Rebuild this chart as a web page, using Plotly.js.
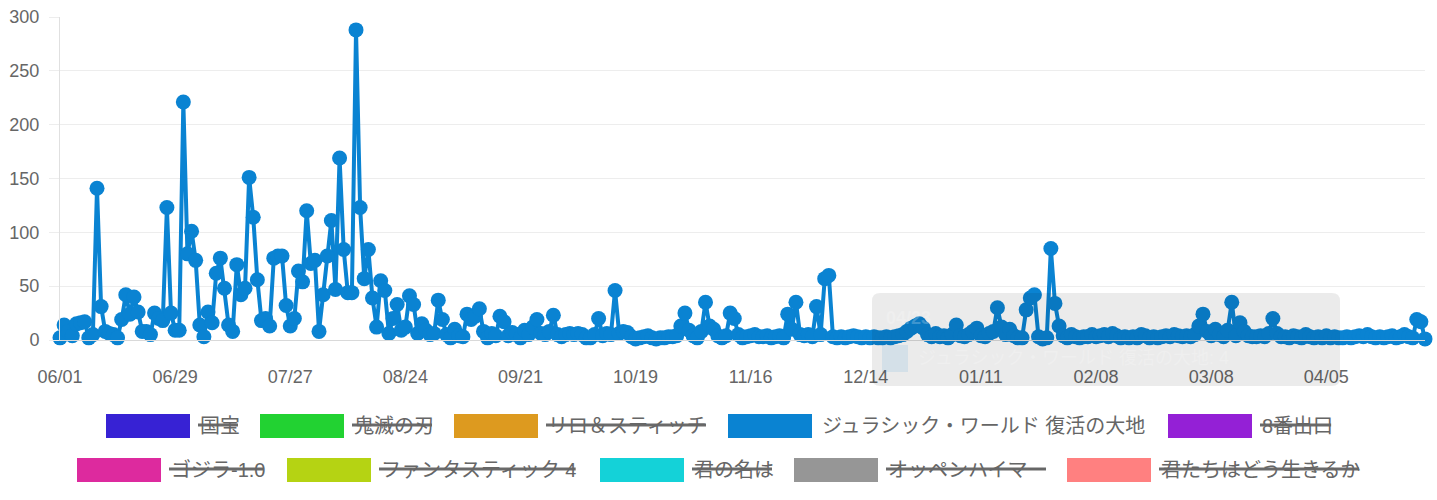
<!DOCTYPE html>
<html>
<head>
<meta charset="utf-8">
<script src="https://cdn.plot.ly/plotly-3.0.1.min.js"></script>
<style>
  html, body { margin: 0; padding: 0; background: #fff; }
  #chart { width: 1437px; height: 500px; }
</style>
</head>
<body>
<div id="chart"></div>
<script>
// ---------- DATA ----------
const startDate = '2025-06-01';
const seriesNames = ['国宝', '鬼滅の刃', 'リロ＆スティッチ', 'ジュラシック・ワールド 復活の大地', '8番出口',
                     'ゴジラ-1.0', 'ファンタスティック 4', '君の名は', 'オッペンハイマー', '君たちはどう生きるか'];
const seriesColors = ['#3722d4', '#22d232', '#dd9a1f', '#0a83d2', '#9420d6',
                      '#dd2a9e', '#b5d313', '#14d2d8', '#969696', '#ff8080'];
const seriesHidden = [true, true, true, false, true, true, true, true, true, true];
// daily values of the visible series (ジュラシック・ワールド 復活の大地)
const jurassicValues = [
  2, 14, 8, 4, 15, 16, 17, 2, 5, 141,
  31, 8, 6, 5, 2, 19, 42, 24, 40, 26,
  8, 8, 5, 25, 20, 18, 123, 25, 9, 9,
  221, 80, 101, 74, 14, 3, 26, 16, 62, 76,
  48, 14, 8, 70, 42, 48, 151, 114, 56, 18,
  20, 13, 76, 78, 78, 32, 13, 20, 64, 54,
  120, 71, 74, 8, 42, 78, 111, 47, 169, 84,
  44, 44, 288, 123, 57, 84, 39, 12, 55, 46,
  6, 20, 33, 9, 12, 41, 33, 6, 15, 9,
  5, 6, 37, 19, 5, 2, 10, 4, 3, 24,
  19, 22, 29, 8, 2, 6, 4, 22, 17, 4,
  7, 5, 2, 9, 5, 12, 19, 6, 5, 8,
  23, 5, 3, 5, 6, 5, 6, 5, 2, 2,
  5, 20, 4, 6, 5, 46, 6, 8, 7, 3,
  1, 2, 3, 4, 2, 1, 2, 2, 3, 3,
  4, 13, 25, 9, 4, 2, 8, 35, 13, 10,
  4, 2, 4, 25, 20, 5, 2, 3, 4, 5,
  3, 3, 4, 2, 3, 4, 2, 24, 10, 35,
  5, 4, 5, 3, 31, 5, 57, 60, 3, 2,
  3, 2, 3, 4, 3, 2, 3, 2, 3, 2,
  2, 3, 2, 3, 4, 5, 8, 11, 13, 15,
  11, 5, 3, 6, 3, 4, 2, 5, 14, 4,
  3, 5, 8, 11, 4, 3, 6, 8, 30, 12,
  5, 10, 4, 2, 2, 28, 39, 42, 3, 1,
  2, 85, 34, 13, 4, 2, 5, 3, 2, 3,
  3, 5, 3, 4, 5, 3, 6, 4, 2, 3,
  2, 3, 2, 5, 4, 2, 3, 2, 3, 4,
  3, 5, 4, 3, 4, 3, 5, 13, 24, 8,
  4, 10, 5, 3, 9, 35, 4, 16, 8, 4,
  3, 3, 4, 3, 6, 20, 6, 3, 3, 2,
  4, 3, 2, 5, 3, 2, 3, 2, 4, 2,
  3, 2, 2, 3, 2, 3, 4, 3, 5, 3,
  2, 3, 2, 3, 4, 2, 3, 5, 3, 2,
  19, 17, 1
];
const yTickValues = [0, 50, 100, 150, 200, 250, 300];

// ---------- BUILD ----------
function addDays(iso, n) {
  const d = new Date(iso + 'T00:00:00Z');
  d.setUTCDate(d.getUTCDate() + n);
  return d.toISOString().slice(0, 10);
}
const dates = jurassicValues.map((_, i) => addDays(startDate, i));

const W = 1437, H = 500;
const M = { l: 60, r: 12, t: 17, b: 160 };
const PW = W - M.l - M.r, PH = H - M.t - M.b;
const px = x => (x - M.l) / PW;
const py = y => (H - M.b - y) / PH;

const FONT = '"Helvetica Neue", "Liberation Sans", Arial, "Noto Sans CJK JP", sans-serif';
const TXT = '#666666';
const LEG_SIZE = 20;

const measureCtx = document.createElement('canvas').getContext('2d');
measureCtx.font = LEG_SIZE + 'px ' + FONT;
const textWidth = s => measureCtx.measureText(s).width;

const trace = {
  x: dates,
  y: jurassicValues,
  type: 'scatter',
  mode: 'lines+markers',
  name: seriesNames[3],
  line: { color: seriesColors[3], width: 4 },
  marker: { color: seriesColors[3], size: 15 },
  cliponaxis: false,
  hoverinfo: 'skip',
  showlegend: false
};

// custom Chart.js-like legend
const legendRows = [
  { y: 426, items: [0, 1, 2, 3, 4], boxX: [106, 260, 454, 728, 1168] },
  { y: 470, items: [5, 6, 7, 8, 9], boxX: [77, 287, 600, 794, 1067] }
];
const boxW = 84, boxH = 24;
const shapes = [];
const annotations = [];
legendRows.forEach(row => {
  row.items.forEach((idx, k) => {
    const x0 = row.boxX[k];
    shapes.push({
      type: 'rect', xref: 'paper', yref: 'paper',
      x0: px(x0), x1: px(x0 + boxW), y0: py(row.y + boxH / 2), y1: py(row.y - boxH / 2),
      fillcolor: seriesColors[idx], line: { width: 0 }
    });
    const tx = x0 + boxW + 8;
    annotations.push({
      xref: 'paper', yref: 'paper', x: px(tx), y: py(row.y),
      xanchor: 'left', yanchor: 'middle', showarrow: false,
      text: seriesNames[idx], font: { family: FONT, size: LEG_SIZE, color: TXT }
    });
    if (seriesHidden[idx]) {
      const w = textWidth(seriesNames[idx]);
      shapes.push({
        type: 'line', xref: 'paper', yref: 'paper',
        x0: px(tx), x1: px(tx + w), y0: py(row.y - 1), y1: py(row.y - 1),
        line: { color: '#6a6a6a', width: 3 }, layer: 'above'
      });
    }
  });
});

// faded tooltip remnant
(function () {
  const x0 = px(872), x1 = px(1340), y0 = py(386), y1 = py(293);
  const rx = 8 / PW, ry = 8 / PH;
  const path = `M ${x0 + rx} ${y1} L ${x1 - rx} ${y1} Q ${x1} ${y1} ${x1} ${y1 - ry} ` +
               `L ${x1} ${y0 + ry} Q ${x1} ${y0} ${x1 - rx} ${y0} L ${x0 + rx} ${y0} ` +
               `Q ${x0} ${y0} ${x0} ${y0 + ry} L ${x0} ${y1 - ry} Q ${x0} ${y1} ${x0 + rx} ${y1} Z`;
  shapes.push({ type: 'path', xref: 'paper', yref: 'paper', path: path,
    fillcolor: 'rgba(0,0,0,0.08)', line: { width: 0 }, layer: 'above' });
  shapes.push({ type: 'rect', xref: 'paper', yref: 'paper',
    x0: px(882), x1: px(908), y0: py(372), y1: py(345),
    fillcolor: 'rgba(10,131,210,0.10)', line: { width: 0 }, layer: 'above' });
  annotations.push({ xref: 'paper', yref: 'paper', x: px(884), y: py(318),
    xanchor: 'left', yanchor: 'middle', showarrow: false, text: '<b>04/23</b>',
    font: { family: FONT, size: 18, color: 'rgba(255,255,255,0.22)' } });
  annotations.push({ xref: 'paper', yref: 'paper', x: px(916), y: py(358),
    xanchor: 'left', yanchor: 'middle', showarrow: false, text: seriesNames[3] + ': 4',
    font: { family: FONT, size: 18, color: 'rgba(255,255,255,0.22)' } });
})();

const layout = {
  width: W, height: H,
  margin: M,
  paper_bgcolor: '#ffffff',
  plot_bgcolor: '#ffffff',
  showlegend: false,
  font: { family: FONT, size: 18, color: TXT },
  xaxis: {
    type: 'date',
    range: [startDate, addDays(startDate, 332)],
    tick0: startDate,
    dtick: 28 * 86400000,
    tickformat: '%m/%d',
    showgrid: false,
    zeroline: false,
    showline: true,
    linecolor: '#d9d9d9',
    linewidth: 1,
    ticks: '',
    ticklabelstandoff: 20,
    tickfont: { family: FONT, size: 18, color: TXT },
    fixedrange: true
  },
  yaxis: {
    range: [0, 300],
    tickvals: yTickValues,
    showgrid: true,
    gridcolor: '#ededed',
    gridwidth: 1,
    zeroline: false,
    showline: true,
    linecolor: '#e0e0e0',
    linewidth: 1,
    ticks: 'outside',
    ticklen: 10,
    tickcolor: '#ededed',
    ticklabelstandoff: 6,
    tickfont: { family: FONT, size: 18, color: TXT },
    fixedrange: true
  },
  shapes: shapes,
  annotations: annotations
};

Plotly.newPlot('chart', [trace], layout, { displayModeBar: false, staticPlot: true });
</script>
</body>
</html>
